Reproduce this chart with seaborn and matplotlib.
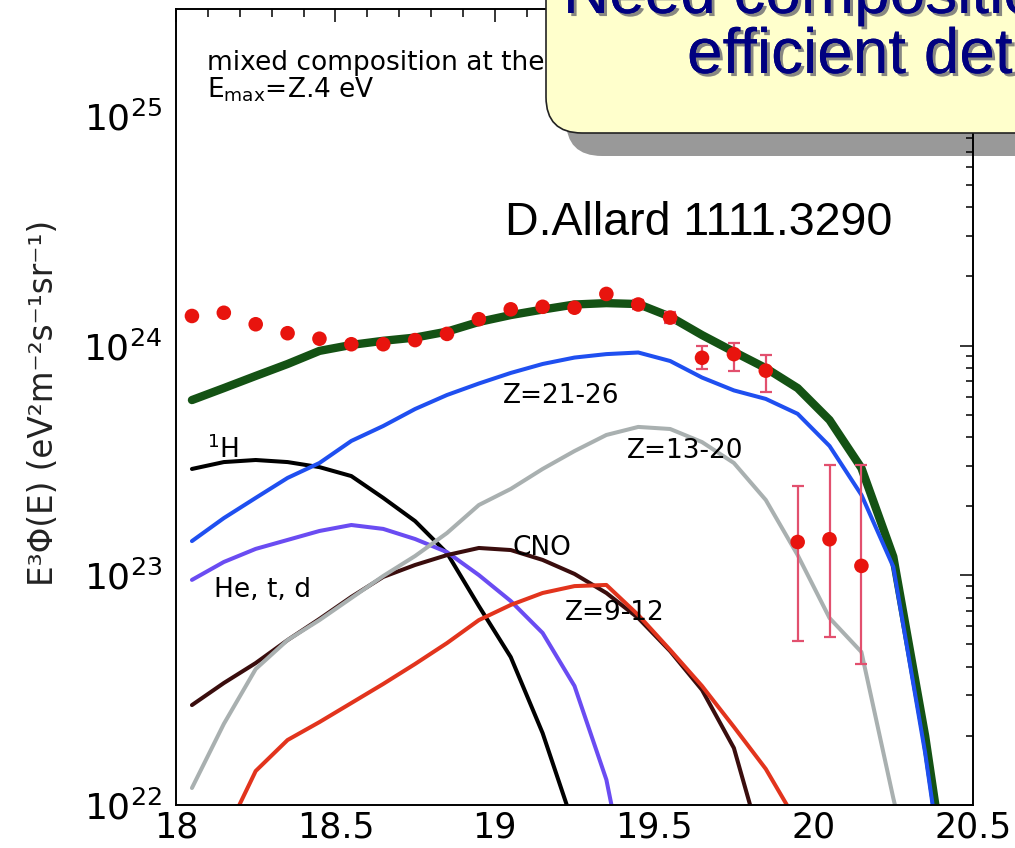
import numpy as np
import pandas as pd
import matplotlib
matplotlib.use("Agg")
import matplotlib.pyplot as plt
import matplotlib.patheffects as pe
from matplotlib.patches import FancyBboxPatch
from matplotlib.transforms import IdentityTransform
from matplotlib.ticker import MultipleLocator, LogLocator, NullFormatter, FixedLocator
import seaborn as sns

# ---- model spectra: log10(E/eV) grid and log10(E^3 Phi) per component ----
nan = np.nan
log_energy = [18.05, 18.15, 18.25, 18.35, 18.45, 18.55, 18.65, 18.75, 18.85,
              18.95, 19.05, 19.15, 19.25, 19.35, 19.45, 19.55, 19.65, 19.75,
              19.85, 19.95, 20.05, 20.15, 20.25, 20.35, 20.45]

log_total = [23.763, 23.815, 23.868, 23.920, 23.977, 24.003, 24.021, 24.035,
             24.061, 24.103, 24.133, 24.157, 24.179, 24.185, 24.181, 24.126,
             24.046, 23.973, 23.902, 23.815, 23.676, 23.467, 23.081, 22.300,
             21.360]
log_z21_26 = [23.149, 23.249, 23.337, 23.424, 23.489, 23.585, 23.650, 23.724,
              23.785, 23.835, 23.881, 23.920, 23.948, 23.963, 23.970, 23.933,
              23.861, 23.805, 23.768, 23.703, 23.563, 23.350, 23.037, 22.226,
              21.260]
log_z13_20 = [22.074, 22.353, 22.592, 22.718, 22.805, 22.901, 22.997, 23.084,
              23.184, 23.306, 23.376, 23.463, 23.541, 23.611, 23.646, 23.637,
              23.580, 23.489, 23.328, 23.088, 22.814, 22.666, 22.030, 21.450,
              nan]
log_proton = [23.463, 23.493, 23.502, 23.493, 23.471, 23.432, 23.337, 23.236,
              23.097, 22.866, 22.644, 22.313, 21.900, nan, nan, nan, nan, nan,
              nan, nan, nan, nan, nan, nan, nan]
log_helium = [22.980, 23.058, 23.115, 23.154, 23.193, 23.219, 23.202, 23.158,
              23.101, 23.001, 22.888, 22.749, 22.518, 22.110, 21.420, nan, nan,
              nan, nan, nan, nan, nan, nan, nan, nan]
log_cno = [22.435, 22.531, 22.618, 22.718, 22.810, 22.906, 22.993, 23.045,
           23.088, 23.119, 23.110, 23.067, 23.006, 22.923, 22.814, 22.670,
           22.501, 22.248, 21.760, nan, nan, nan, nan, nan, nan]
log_z9_12 = [nan, 21.860, 22.148, 22.283, 22.361, 22.444, 22.527, 22.614,
             22.705, 22.805, 22.871, 22.923, 22.953, 22.958, 22.827, 22.675,
             22.518, 22.340, 22.157, 21.920, nan, nan, nan, nan, nan]

# ---- measured spectrum ----
data_log_energy = [18.05, 18.15, 18.25, 18.35, 18.45, 18.55, 18.65, 18.75,
                   18.85, 18.95, 19.05, 19.15, 19.25, 19.35, 19.45, 19.55,
                   19.65, 19.75, 19.85, 19.95, 20.05, 20.15]
data_log_flux = [24.129, 24.143, 24.093, 24.054, 24.030, 24.006, 24.006,
                 24.024, 24.051, 24.115, 24.158, 24.169, 24.165, 24.225,
                 24.179, 24.122, 23.947, 23.963, 23.891, 23.145, 23.157,
                 23.041]
data_log_low = [24.129, 24.143, 24.093, 24.054, 24.030, 24.006, 24.006,
                24.024, 24.051, 24.115, 24.158, 24.169, 24.165, 24.225,
                24.160, 24.100, 23.897, 23.891, 23.799, 22.715, 22.730,
                22.614]
data_log_high = [24.129, 24.143, 24.093, 24.054, 24.030, 24.006, 24.006,
                 24.024, 24.051, 24.115, 24.158, 24.169, 24.165, 24.225,
                 24.198, 24.145, 24.000, 24.010, 23.959, 23.389, 23.480,
                 23.480]

components = ["total", "Z=21-26", "Z=13-20", "1H", "He", "CNO", "Z=9-12"]
draw_order = ["total", "1H", "He", "CNO", "Z=9-12", "Z=13-20", "Z=21-26"]
colors = {"total": "#145214", "Z=21-26": "#1f4ff0", "Z=13-20": "#a9b0b0",
          "1H": "#000000", "He": "#6a4cf2", "CNO": "#3a0d0d",
          "Z=9-12": "#e2341d"}
widths = {name: 2.9 for name in components}
widths["total"] = 6.0

curves = pd.DataFrame({"logE": log_energy, "total": log_total,
                       "Z=21-26": log_z21_26, "Z=13-20": log_z13_20,
                       "1H": log_proton, "He": log_helium, "CNO": log_cno,
                       "Z=9-12": log_z9_12})
long = curves.melt(id_vars="logE", var_name="component",
                   value_name="logflux").dropna()
long["flux"] = 10.0 ** long["logflux"]

points = pd.DataFrame({"logE": data_log_energy, "logflux": data_log_flux,
                       "lo": data_log_low, "hi": data_log_high})
points["flux"] = 10.0 ** points["logflux"]

sns.set_theme(style="white")
plt.rcParams["font.family"] = ["DejaVu Sans"]
plt.rcParams["mathtext.fontset"] = "dejavusans"

W, H = 1015, 848
fig = plt.figure(figsize=(W / 100, H / 100), dpi=100)
fig.patch.set_facecolor("white")
ax = fig.add_axes([176 / W, 43 / H, 797 / W, 796 / H])
ax.set_yscale("log")

for name in draw_order:
    sns.lineplot(data=long[long["component"] == name], x="logE", y="flux",
                 color=colors[name], linewidth=widths[name], estimator=None,
                 sort=False, legend=False, ax=ax)

# error bars for the measured points that carry them
with_err = points[points["hi"] > points["lo"]]
ax.errorbar(with_err["logE"], with_err["flux"],
            yerr=[with_err["flux"] - 10.0 ** with_err["lo"],
                  10.0 ** with_err["hi"] - with_err["flux"]],
            fmt="none", ecolor="#e2506e", elinewidth=1.6, capsize=4.5,
            capthick=1.6, zorder=5)
sns.scatterplot(data=points, x="logE", y="flux", color="#e8140e", s=110,
                edgecolor="none", zorder=6, legend=False, ax=ax)

ax.set_xlim(18, 20.5)
ax.set_ylim(1e22, 10 ** 25.4655)
ax.set_xlabel("")
ax.set_xticks([18, 18.5, 19, 19.5, 20, 20.5])
ax.set_xticklabels(["18", "18.5", "19", "19.5", "20", "20.5"])
ax.xaxis.set_minor_locator(MultipleLocator(0.1))
ax.yaxis.set_major_locator(FixedLocator([1e22, 1e23, 1e24, 1e25]))
ax.yaxis.set_minor_locator(LogLocator(base=10, subs=np.arange(2, 10),
                                      numticks=30))
ax.yaxis.set_minor_formatter(NullFormatter())
ax.tick_params(which="both", direction="in", top=True, right=True,
               width=1.1, color="black", labelcolor="black")
ax.tick_params(which="major", length=9.4)
ax.tick_params(axis="x", which="major", labelsize=25, pad=4)
ax.tick_params(axis="y", which="major", labelsize=26, pad=10)
ax.tick_params(which="minor", length=5.4)
for sp in ax.spines.values():
    sp.set_color("black")
    sp.set_linewidth(1.4)

ax.set_ylabel("E³Φ(E) (eV²m⁻²s⁻¹sr⁻¹)", fontsize=23.5, color="#222222")
ax.yaxis.set_label_coords(-0.146, 0.505)

# curve annotations
label_kw = dict(fontsize=19, color="black", va="baseline", ha="left",
                zorder=7)
ax.text(19.026, 10 ** 23.750, "Z=21-26", **label_kw)
ax.text(19.415, 10 ** 23.511, "Z=13-20", **label_kw)
ax.text(19.054, 10 ** 23.088, "CNO", **label_kw)
ax.text(19.220, 10 ** 22.805, "Z=9-12", **label_kw)
ax.text(18.097, 10 ** 23.511, r"$^{\mathregular{1}}$H", **label_kw)
ax.text(18.119, 10 ** 22.906, "He, t, d", **label_kw)
ax.text(18.097, 10 ** 25.200, "mixed composition at the source",
        **label_kw)
ax.text(18.097, 10 ** 25.082, r"E$_{\mathregular{max}}$=Z.4 eV",
        **label_kw)

# reference tag
fig.text(505 / W, 1 - 235 / H, "D.Allard 1111.3290",
         family=["Liberation Sans", "DejaVu Sans"], fontsize=33.5,
         color="black", va="baseline", ha="left")

# callout box with drop shadow, drawn in pixel coordinates
shadow = FancyBboxPatch((566, H - 156), 600, 260,
                        boxstyle="round,pad=0,rounding_size=36",
                        transform=IdentityTransform(), facecolor="black",
                        edgecolor="none", alpha=0.4, zorder=10)
box = FancyBboxPatch((546, H - 133), 600, 260,
                     boxstyle="round,pad=0,rounding_size=36",
                     transform=IdentityTransform(), facecolor="#ffffcc",
                     edgecolor="#222222", linewidth=1.2, zorder=11)
fig.add_artist(shadow)
fig.add_artist(box)
callout_kw = dict(family=["Liberation Sans", "DejaVu Sans"], fontsize=46,
                  color="#000080", va="baseline", ha="left", zorder=12,
                  path_effects=[pe.withSimplePatchShadow(
                      offset=(2.2, -2.2), shadow_rgbFace="#7a7a7a",
                      alpha=0.9), pe.Normal()])
fig.text(563 / W, 1 - 13 / H, "Need composition sensitive", **callout_kw)
fig.text(687 / W, 1 - 73 / H, "efficient detectors", **callout_kw)

fig.savefig("out.png", dpi=100, facecolor="white")
